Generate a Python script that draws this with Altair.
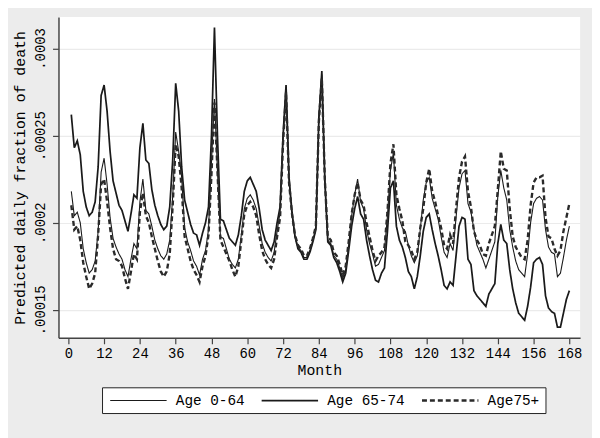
import altair as alt
import pandas as pd

# values in units of 1e-5 (predicted daily fraction of death), months 1..168
months = list(range(1, 169))

age_0_64 = [
    21.8, 20.4, 20.6, 20.0, 18.5, 17.7, 17.1, 17.3, 17.8, 19.5, 22.9, 23.7,
    22.2, 20.3, 19.1, 18.6, 18.2, 17.9, 17.3, 16.9, 17.9, 18.8, 18.5, 21.2,
    22.5, 20.7, 20.5, 19.8, 19.0, 18.5, 18.1, 17.9, 18.2, 19.0, 21.5, 25.2,
    24.1, 22.6, 19.7, 18.9, 18.4, 17.8, 17.5, 17.0, 17.9, 18.4, 19.6, 23.5,
    27.1, 23.0, 19.2, 19.1, 18.5, 17.9, 17.6, 17.4, 17.9, 19.3, 20.8, 21.4,
    21.6, 21.3, 20.8, 19.8, 18.8, 18.3, 18.0, 17.8, 18.3, 19.5, 20.6, 24.8,
    27.7, 22.4, 20.5, 19.2, 18.6, 18.4, 18.0, 18.0, 18.4, 19.0, 19.7, 26.0,
    28.5, 22.4, 19.0, 18.8, 18.1, 17.9, 17.4, 16.8, 17.3, 18.7, 20.4, 21.6,
    22.5, 21.2, 20.8, 19.6, 18.8, 18.2, 17.5, 17.6, 18.0, 18.4, 20.4, 23.0,
    24.0, 21.0, 20.2, 19.7, 19.5, 18.7, 18.1, 17.7, 18.1, 19.6, 21.3, 22.3,
    22.6, 21.4, 20.8, 20.2, 19.2, 18.3, 18.0, 18.8, 18.4, 20.3, 22.0, 22.8,
    23.0, 21.1, 20.6, 19.6, 18.7, 18.3, 17.9, 17.4, 17.9, 18.4, 18.9, 21.5,
    23.0, 22.0, 21.3, 19.6, 18.6, 17.8, 17.3, 17.1, 16.9, 18.2, 20.0, 21.1,
    21.4, 21.5, 21.3, 19.6, 18.6, 18.3, 18.2, 16.9, 17.1, 18.0, 19.0, 19.8,
]

age_65_74 = [
    26.2, 24.3, 24.7, 23.9, 21.8, 20.9, 20.4, 20.6, 21.2, 23.2, 27.3, 27.9,
    26.4, 24.1, 22.4, 21.7, 21.0, 20.7, 20.1, 19.5, 20.5, 21.6, 21.4, 24.3,
    25.7, 23.6, 23.4, 21.9, 21.0, 20.4, 19.9, 19.6, 19.8, 20.9, 23.6, 28.0,
    26.4, 23.2, 21.3, 20.6, 19.9, 19.4, 19.3, 18.7, 19.4, 20.0, 20.9, 25.0,
    31.2, 25.0, 20.2, 20.1, 19.6, 19.1, 18.9, 18.7, 19.3, 20.4, 21.8, 22.4,
    22.6, 22.2, 21.8, 20.8, 19.6, 19.0, 18.7, 18.4, 18.9, 20.0, 20.9, 25.0,
    27.9, 22.6, 20.6, 19.2, 18.5, 18.3, 17.9, 17.9, 18.3, 18.9, 19.6, 26.0,
    28.7, 22.5, 18.9, 18.7, 18.0, 17.7, 17.2, 16.6, 17.1, 18.4, 19.8, 20.8,
    21.5, 20.5, 20.2, 19.0, 18.1, 17.3, 16.7, 16.6, 17.1, 17.4, 19.5, 22.0,
    22.4, 19.8, 19.0, 18.6, 18.0, 17.2, 16.9, 16.2, 16.9, 18.1, 19.5, 20.3,
    20.5, 19.6, 18.8, 18.1, 17.3, 16.4, 16.2, 16.6, 16.4, 18.1, 19.8, 20.3,
    20.2, 17.9, 17.6, 16.1, 15.8, 15.6, 15.4, 15.2, 15.9, 16.2, 16.5, 18.8,
    19.9, 19.0, 18.8, 17.3, 16.2, 15.4, 14.8, 14.6, 14.4, 15.2, 16.3, 17.7,
    17.9, 18.0, 17.6, 15.8, 15.1, 14.9, 14.8, 14.0, 14.0, 14.8, 15.6, 16.1,
]

age_75_plus = [
    21.0, 19.6, 19.8, 19.0, 17.7, 16.9, 16.2, 16.5, 17.1, 19.3, 22.2, 22.5,
    21.2, 19.7, 18.5, 17.9, 17.8, 17.5, 16.8, 16.2, 17.2, 18.2, 17.9, 20.6,
    21.7, 20.4, 20.0, 19.2, 18.5, 17.8, 17.2, 16.9, 17.2, 18.2, 21.0, 24.5,
    23.8, 22.0, 19.2, 18.5, 17.8, 17.3, 17.0, 16.6, 17.5, 18.1, 19.3, 22.8,
    26.9, 23.0, 19.0, 18.6, 18.2, 17.8, 17.3, 16.9, 17.5, 19.0, 20.5, 21.0,
    21.2, 20.9, 20.4, 19.3, 18.4, 17.9, 17.6, 17.4, 17.9, 19.2, 20.3, 24.6,
    27.5, 22.3, 20.5, 19.3, 18.7, 18.5, 18.1, 18.1, 18.5, 19.1, 19.8, 25.8,
    28.3, 22.5, 19.2, 19.0, 18.3, 18.1, 17.6, 17.0, 17.5, 18.9, 20.5, 21.6,
    22.3, 21.3, 21.0, 20.0, 19.2, 18.4, 17.8, 18.1, 18.3, 18.6, 20.6, 23.4,
    24.5, 21.6, 20.8, 20.1, 18.9, 18.7, 18.4, 17.9, 18.3, 19.7, 20.8, 22.3,
    23.1, 21.8, 21.2, 20.4, 19.7, 18.7, 18.5, 19.3, 18.8, 20.8, 22.6, 23.5,
    23.8, 21.8, 20.9, 19.5, 19.0, 18.7, 18.2, 18.1, 18.8, 19.3, 19.8, 21.9,
    24.1, 23.1, 23.0, 20.8, 19.2, 18.6, 18.3, 18.0, 17.9, 19.0, 21.0, 22.3,
    22.6, 22.6, 22.7, 20.3, 19.2, 19.1, 18.5, 18.1, 18.4, 19.5, 20.3, 21.1,
]

series_names = ["Age 0-64", "Age 65-74", "Age75+"]
x_ticks = list(range(0, 169, 12))
y_ticks = [0.00015, 0.0002, 0.00025, 0.0003]
UNIT = 1e-5

rows = []
for name, vals in zip(series_names, [age_0_64, age_65_74, age_75_plus]):
    for m, v in zip(months, vals):
        rows.append({"month": m, "value": v * UNIT, "series": name})
df = pd.DataFrame(rows)

FONT = "Liberation Mono"
ink = "#1a1a1a"

leg = dict(title=None, orient="none", legendX=44, legendY=374, direction="horizontal")

chart = alt.Chart(df).mark_line(clip=True).encode(
    x=alt.X("month:Q",
            scale=alt.Scale(domain=[-3.3, 171.6], nice=False, zero=False),
            axis=alt.Axis(values=x_ticks, title="Month", grid=False,
                          labelPadding=3, titlePadding=2)),
    y=alt.Y("value:Q",
            scale=alt.Scale(domain=[0.0001339, 0.000318], nice=False, zero=False),
            axis=alt.Axis(values=y_ticks, title="Predicted daily fraction of death",
                          labelExpr="substring(format(datum.value, '.5~f'), 1)",
                          labelAngle=270, labelAlign="center", labelBaseline="bottom",
                          labelPadding=5, titlePadding=6, grid=True)),
    color=alt.Color("series:N",
                    scale=alt.Scale(domain=series_names, range=[ink, ink, "#2a2a2a"]),
                    legend=alt.Legend(**leg)),
    strokeWidth=alt.StrokeWidth("series:N",
                                scale=alt.Scale(domain=series_names, range=[1.1, 2.4, 0.9]),
                                legend=alt.Legend(**leg)),
    strokeDash=alt.StrokeDash("series:N",
                              scale=alt.Scale(domain=series_names,
                                              range=[[1, 0], [1, 0], [5, 3]]),
                              legend=alt.Legend(**leg)),
    order="month:Q",
).properties(
    width=527, height=324,
    padding={"left": 51, "top": 7, "right": 12, "bottom": 99},
    autosize=alt.AutoSizeParams(type="none"),
    background="#ececec",
).configure_view(
    fill="white", stroke=None,
).configure_axis(
    labelFont=FONT, titleFont=FONT, labelFontSize=14, titleFontSize=15,
    labelColor="black", titleColor="black", titleFontWeight="normal",
    domainColor="#444444", domainWidth=1.5, tickColor="#444444", tickSize=6,
    tickWidth=1.2, gridColor="#ebebeb", gridWidth=1.2,
).configure_legend(
    labelFont=FONT, labelFontSize=14.5, labelColor="black",
    symbolType="M-1,0H10.4", symbolSize=100, symbolStrokeColor=ink,
    strokeColor="#222222", fillColor="white", padding=6,
    labelOffset=54, columnPadding=12,
)

chart.save("out.html", embed_options={"renderer": "svg", "actions": False})
